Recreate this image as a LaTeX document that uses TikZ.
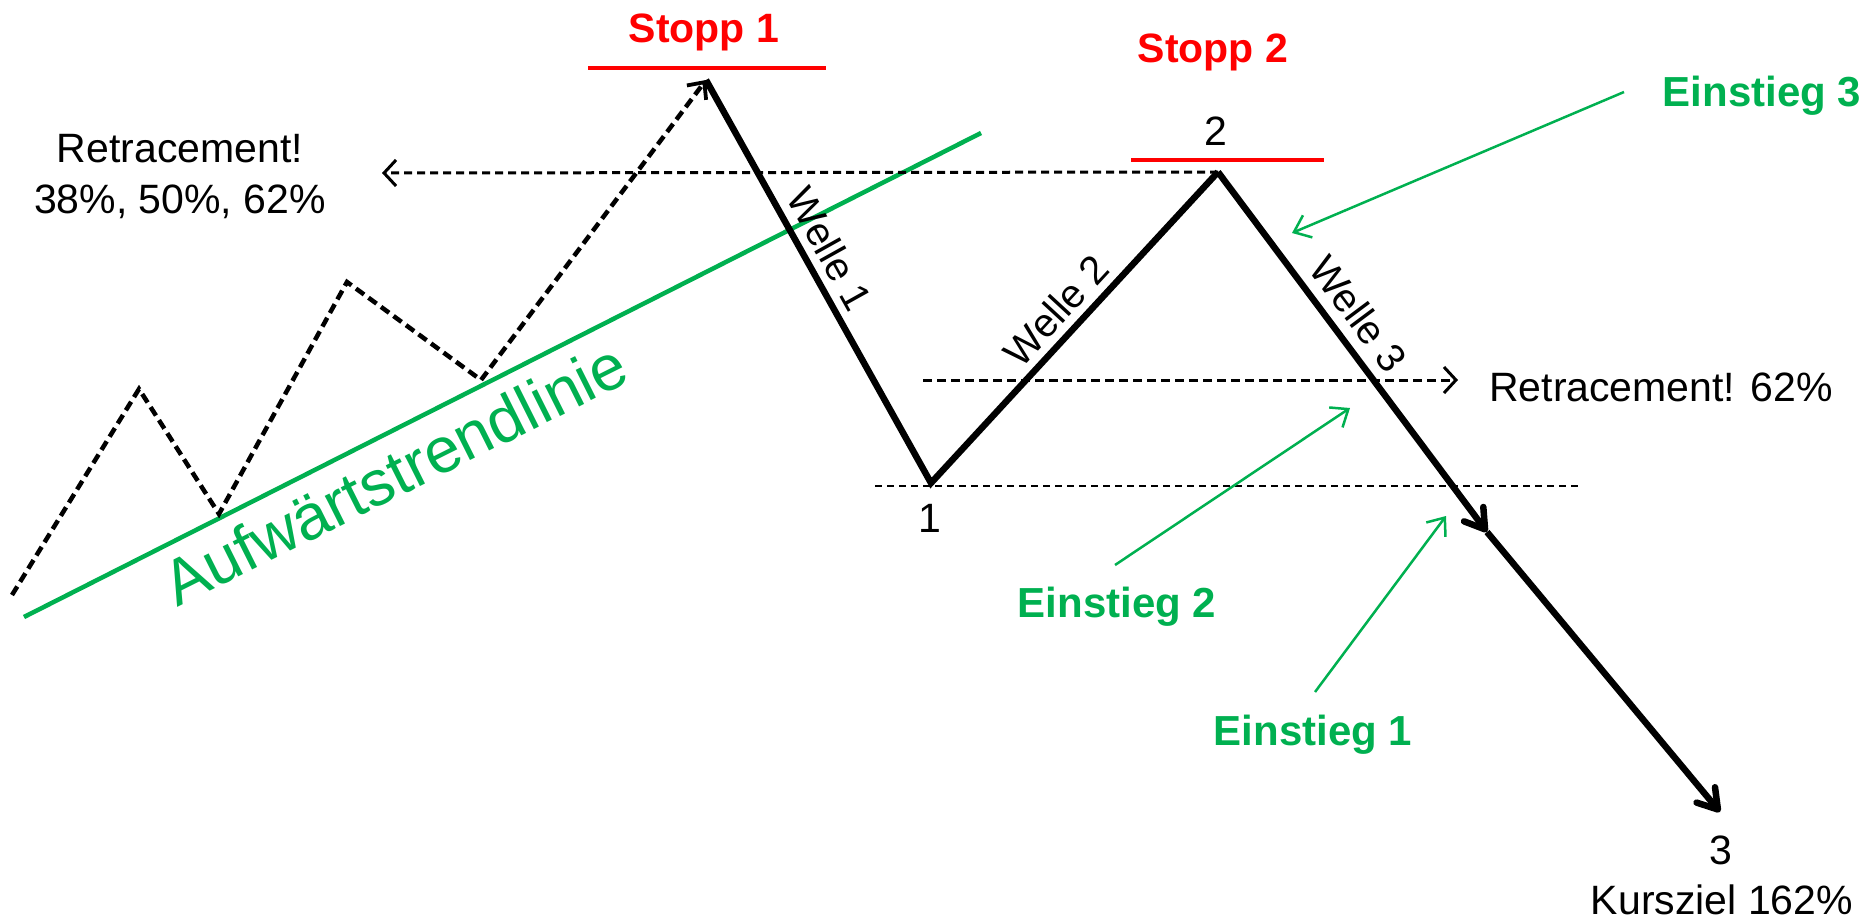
\documentclass[tikz,border=0pt]{standalone}
\usepackage{fontspec}
\setmainfont{Liberation Sans}
\usetikzlibrary{arrows.meta}
\definecolor{tgreen}{RGB}{0,176,80}
\definecolor{tred}{RGB}{255,0,0}
\begin{document}
\begin{tikzpicture}[x=1pt,y=-1pt,
  lbl/.style={font=\fontsize{41}{49}\selectfont, inner sep=0pt, anchor=base},
  stoplbl/.style={font=\bfseries\fontsize{41}{49}\selectfont, text=tred, inner sep=0pt, anchor=base},
  einlbl/.style={font=\bfseries\fontsize{42}{50}\selectfont, text=tgreen, inner sep=0pt, anchor=base},
  wellelbl/.style={font=\fontsize{40}{48}\selectfont, inner sep=0pt, sloped},
  wave/.style={line width=6.5pt, line join=miter, line cap=butt},
  bigtip/.style={-{Straight Barb[length=19pt,width=24pt,line width=6.5pt,round]}},
  trend/.style={line width=4.5pt, dash pattern=on 10pt off 5.5pt},
  stopline/.style={draw=tred, line width=4.5pt},
  gline/.style={draw=tgreen, line width=4.5pt},
  garrow/.style={draw=tgreen, line width=2.5pt, -{Straight Barb[length=15pt,width=24pt,line width=2.5pt]}}
]
\useasboundingbox (0,0) rectangle (1870,923);
% coordinates
\coordinate (P0) at (12,595);
\coordinate (P1) at (139,389);
\coordinate (P2) at (219,514);
\coordinate (P3) at (347,282);
\coordinate (P4) at (481,380);
\coordinate (T) at (706,80);
\coordinate (B1) at (931,483);
\coordinate (B2) at (1218,172);
\coordinate (M) at (1487,532);
\coordinate (E) at (1720,812);
\coordinate (gA) at (24,617);
\coordinate (gB) at (981,133);
\coordinate (rL) at (382,173);
\coordinate (r62a) at (923,380);
\coordinate (r62b) at (1458,380);
\coordinate (lv1a) at (875,486);
\coordinate (lv1b) at (1580,486);
\coordinate (s1a) at (588,68);
\coordinate (s1b) at (826,68);
\coordinate (s2a) at (1131,160);
\coordinate (s2b) at (1324,160);
\coordinate (e3s) at (1624,92);
\coordinate (e3t) at (1292,233);
\coordinate (e2s) at (1115,565);
\coordinate (e2t) at (1350,408);
\coordinate (e1s) at (1315,692);
\coordinate (e1t) at (1446,516);

% green trend line
\draw[gline] (gA) -- (gB);
\node[font=\fontsize{64}{70}\selectfont, text=tgreen, inner sep=0pt, anchor=base, rotate=26.6] (auf) at (405,494) {Aufwärtstrendlinie};

% dashed uptrend
\draw[trend, line join=miter, -{Straight Barb[length=13pt,width=24pt,line width=3.8pt]}] (P0) -- (P1) -- (P2) -- (P3) -- (P4) -- (T);

% horizontal dashed lines
\draw[line width=3pt, dash pattern=on 8pt off 5pt, -{Straight Barb[length=12pt,width=26pt,line width=3pt]}] (B2) -- (rL);
\draw[line width=3pt, dash pattern=on 9pt off 5pt, -{Straight Barb[length=12pt,width=26pt,line width=3pt]}] (r62a) -- (r62b);
\draw[line width=2.3pt, dash pattern=on 7pt off 5pt] (lv1a) -- (lv1b);

% stop lines
\draw[stopline] (s1a) -- (s1b);
\draw[stopline] (s2a) -- (s2b);

% waves
\draw[wave] (T) -- (B1) -- (B2);
\draw[wave, bigtip] (B2) -- (M);
\draw[wave, bigtip] (M) -- (E);

\path (T) -- (B1) node[wellelbl, pos=0.45, above=11pt] (w1) {Welle 1};
\path (B1) -- (B2) node[wellelbl, pos=0.50, above=10pt] (w2) {Welle 2};
\path (B2) -- (M) node[wellelbl, pos=0.44, above=13pt] (w3) {Welle 3};

% green arrows
\draw[garrow] (e3s) -- (e3t);
\draw[garrow] (e2s) -- (e2t);
\draw[garrow] (e1s) -- (e1t);

% labels
\node[lbl] (rt1) at (180,162) {Retracement!};
\node[lbl] (rt2) at (180,213) {38\%, 50\%, 62\%};
\node[lbl, anchor=base west] (rt62) at (1489,401) {Retracement! 62\%};
\node[stoplbl] (st1) at (704,43) {Stopp 1};
\node[stoplbl] (st2) at (1213,63) {Stopp 2};
\node[lbl] (n2) at (1216,146) {2};
\node[lbl] (n1) at (930,532) {1};
\node[lbl] (n3) at (1721,864) {3};
\node[lbl] (kz) at (1722,914) {Kursziel 162\%};
\node[einlbl] (ein3) at (1762,107) {Einstieg 3};
\node[einlbl] (ein2) at (1117,617) {Einstieg 2};
\node[einlbl] (ein1) at (1313,745) {Einstieg 1};
\end{tikzpicture}
\end{document}
